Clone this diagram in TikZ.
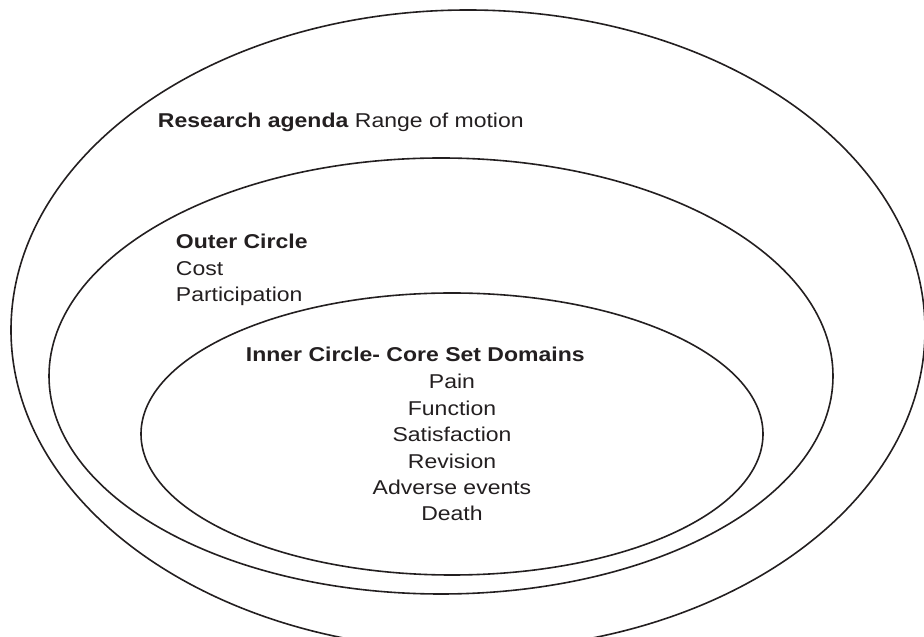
\documentclass[tikz,border=0pt]{standalone}
\usepackage{fontspec}
\setmainfont{Liberation Sans}
\definecolor{ink}{HTML}{231F20}
\begin{document}
\begin{tikzpicture}[
		x=1pt,y=1pt,
		line width=1.6pt,
		line cap=round,
		line join=round,
		ink,
		ringtext/.style={font=\fontsize{20}{24}\selectfont,inner sep=0pt,xscale=1.15,transform shape}
		]
		\useasboundingbox (0,0) rectangle (924,637);
		\clip (0,0) rectangle (924,637);
		% the three rings
		\draw (468,307) ellipse [x radius=457,y radius=320];
		\draw (441,261) ellipse [x radius=392,y radius=218];
		\draw (452,203) ellipse [x radius=311,y radius=141];
		% texts
		\node[ringtext,anchor=base west] (agenda) at (157,509) {\textbf{Research agenda} Range of motion};
		\node[ringtext,anchor=base west] (outer) at (175,388) {\textbf{Outer Circle}};
		\node[ringtext,anchor=base west] (cost) at (175,361) {Cost};
		\node[ringtext,anchor=base west] (particip) at (175,335) {Participation};
		\node[ringtext,anchor=base west] (inner) at (245,275) {\textbf{Inner Circle- Core Set Domains}};
		\foreach \dom [count=\i from 0] in {Pain,Function,Satisfaction,Revision,Adverse events,Death}
		\node[ringtext,anchor=base] (dom\i) at (452,248-26.4*\i) {\dom};
		\end{tikzpicture}
\end{document}
